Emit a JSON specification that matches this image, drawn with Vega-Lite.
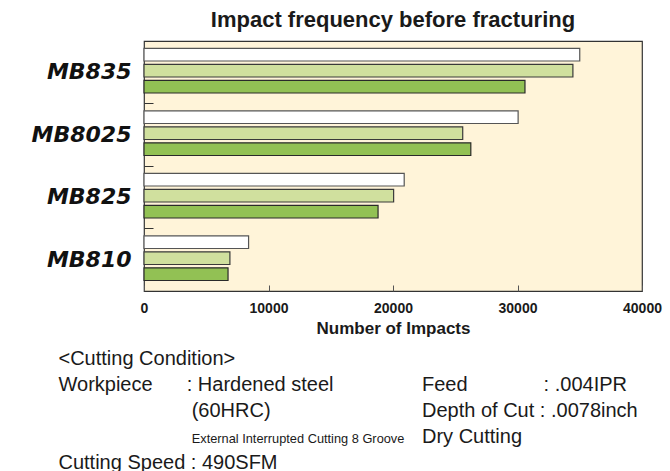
{
  "$schema": "https://vega.github.io/schema/vega-lite/v6.json",
  "width": 498,
  "height": 250,
  "autosize": {"type": "none"},
  "padding": {"left": 144, "top": 41, "right": 28, "bottom": 180},
  "background": "white",
  "title": {
    "text": "Impact frequency before fracturing",
    "font": "Liberation Sans",
    "fontSize": 22,
    "fontWeight": "bold",
    "color": "#1a1a1a",
    "anchor": "middle",
    "offset": 9
  },
  "config": {
    "view": {"fill": "#FFF4D9", "stroke": "#333333", "strokeWidth": 1.2}
  },
  "layer": [
    {
      "data": {
        "values": [
          {"model": "MB835", "series": "1", "impacts": 35000},
          {"model": "MB835", "series": "2", "impacts": 34450},
          {"model": "MB835", "series": "3", "impacts": 30600},
          {"model": "MB8025", "series": "1", "impacts": 30050},
          {"model": "MB8025", "series": "2", "impacts": 25600},
          {"model": "MB8025", "series": "3", "impacts": 26250},
          {"model": "MB825", "series": "1", "impacts": 20900},
          {"model": "MB825", "series": "2", "impacts": 20050},
          {"model": "MB825", "series": "3", "impacts": 18800},
          {"model": "MB810", "series": "1", "impacts": 8400},
          {"model": "MB810", "series": "2", "impacts": 6900},
          {"model": "MB810", "series": "3", "impacts": 6750}
        ]
      },
      "mark": {"type": "bar", "strokeWidth": 1.2},
      "encoding": {
        "y": {
          "field": "model",
          "type": "nominal",
          "sort": ["MB835", "MB8025", "MB825", "MB810"],
          "scale": {"paddingInner": 0, "paddingOuter": 0},
          "axis": {
            "title": null,
            "domain": false,
            "ticks": true,
            "tickSize": -9,
            "tickColor": "#333333",
            "tickWidth": 1,
            "bandPosition": 1,
            "labelFont": "DejaVu Sans",
            "labelFontSize": 22,
            "labelFontWeight": "bold",
            "labelFontStyle": "italic",
            "labelColor": "#111111",
            "labelPadding": 22
          }
        },
        "yOffset": {
          "field": "series",
          "type": "nominal",
          "scale": {"paddingInner": 0.206, "paddingOuter": 0.556, "align": 0.41}
        },
        "x": {
          "field": "impacts",
          "type": "quantitative",
          "scale": {"domain": [0, 40000], "nice": false},
          "axis": {
            "title": "Number of Impacts",
            "titleFont": "Liberation Sans",
            "titleFontSize": 17,
            "titleFontWeight": "bold",
            "titleColor": "#1a1a1a",
            "titlePadding": 5,
            "values": [0, 10000, 20000, 30000, 40000],
            "format": "d",
            "grid": false,
            "domain": false,
            "tickSize": -6,
            "tickColor": "#555555",
            "labelFont": "Liberation Sans",
            "labelFontSize": 14,
            "labelFontWeight": "bold",
            "labelColor": "#1a1a1a",
            "labelFlush": false,
            "labelPadding": 16
          }
        },
        "fill": {
          "field": "series",
          "type": "nominal",
          "scale": {"domain": ["1", "2", "3"], "range": ["#FFFFFF", "#D0E09E", "#92C154"]},
          "legend": null
        },
        "stroke": {
          "field": "series",
          "type": "nominal",
          "scale": {"domain": ["1", "2", "3"], "range": ["#555555", "#3a3a3a", "#2a2a2a"]},
          "legend": null
        }
      }
    },
    {
      "data": {
        "values": [
          {"line": 0, "col": 0, "text": "<Cutting Condition>"},
          {"line": 1, "col": 0, "text": "Workpiece"},
          {"line": 1, "col": 1, "text": ": Hardened steel"},
          {"line": 1, "col": 3, "text": "Feed"},
          {"line": 1, "col": 4, "text": ": .004IPR"},
          {"line": 2, "col": 2, "text": "(60HRC)"},
          {"line": 2, "col": 3, "text": "Depth of Cut : .0078inch"},
          {"line": 3, "col": 3, "text": "Dry Cutting"},
          {"line": 4, "col": 0, "text": "Cutting Speed : 490SFM"}
        ]
      },
      "mark": {
        "type": "text",
        "align": "left",
        "baseline": "alphabetic",
        "font": "Liberation Sans",
        "fontSize": 20,
        "color": "#1a1a1a"
      },
      "encoding": {
        "x": {
          "field": "col",
          "type": "quantitative",
          "scale": {"domain": [0, 1, 2, 3, 4], "range": [-85.5, 42.7, 47.7, 278, 399.6], "nice": false, "zero": false},
          "axis": null
        },
        "y": {
          "field": "line",
          "type": "quantitative",
          "scale": {"domain": [0, 4], "range": [324, 428], "nice": false, "zero": false},
          "axis": null
        },
        "text": {"field": "text", "type": "nominal"}
      }
    },
    {
      "data": {
        "values": [
          {"line": 3, "col": 2, "text": "External Interrupted Cutting 8 Groove"}
        ]
      },
      "mark": {
        "type": "text",
        "align": "left",
        "baseline": "alphabetic",
        "font": "Liberation Sans",
        "fontSize": 12.8,
        "color": "#1a1a1a"
      },
      "encoding": {
        "x": {
          "field": "col",
          "type": "quantitative",
          "scale": {"domain": [0, 1, 2, 3, 4], "range": [-85.5, 42.7, 47.7, 278, 399.6], "nice": false, "zero": false},
          "axis": null
        },
        "y": {
          "field": "line",
          "type": "quantitative",
          "scale": {"domain": [0, 4], "range": [324, 428], "nice": false, "zero": false},
          "axis": null
        },
        "text": {"field": "text", "type": "nominal"}
      }
    }
  ],
  "resolve": {
    "scale": {"x": "independent", "y": "independent", "fill": "shared", "stroke": "shared"},
    "axis": {"x": "independent", "y": "independent"}
  }
}
